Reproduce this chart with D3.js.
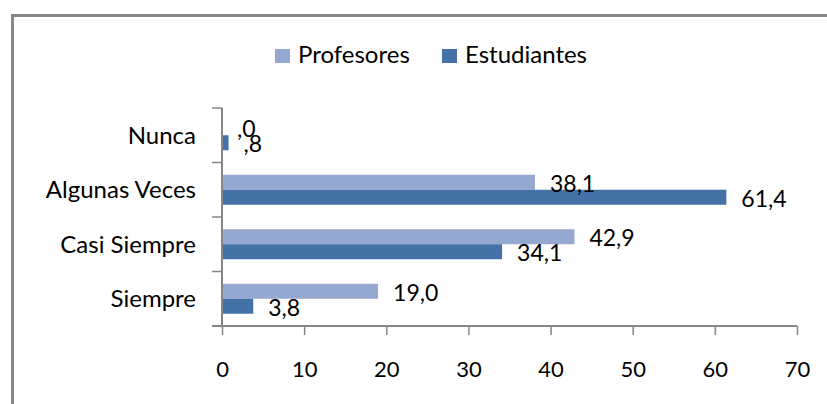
<!DOCTYPE html>
<html>
<head>
<meta charset="utf-8">
<script src="https://cdn.jsdelivr.net/npm/d3@7"></script>
<style>
    body { margin: 0; background: #fff; }
    text { font-family: Lato, "Open Sans", sans-serif; fill: #000; }
</style>
</head>
<body>
<div id="chart"></div>
<script>
// Chart data
const categories = ['Nunca', 'Algunas Veces', 'Casi Siempre', 'Siempre'];
const seriesNames = ['Profesores', 'Estudiantes'];
const profesores = [0.0, 38.1, 42.9, 19.0];
const estudiantes = [0.8, 61.4, 34.1, 3.8];
const xTicks = [0, 10, 20, 30, 40, 50, 60, 70];

function drawChart(containerId)
{
    const width = 827;
    const height = 404;
    const colors = ['#94a8d0', '#4472a7'];
    const axisColor = '#868686';

    const svg = d3.select(containerId)
        .append('svg')
        .attr('width', width)
        .attr('height', height);

    // Outer frame (runs past the right and bottom edges)
    svg.append('rect')
        .attr('x', 12.5)
        .attr('y', 15.5)
        .attr('width', 900)
        .attr('height', 500)
        .attr('fill', 'none')
        .attr('stroke', axisColor)
        .attr('stroke-width', 3);

    // Scales
    const xScale = d3.scaleLinear()
        .domain([0, 70])
        .range([222, 797]);

    const yScale = d3.scaleBand()
        .domain(categories)
        .range([108, 326]);

    const barH = 15;
    const inner = d3.scaleBand()
        .domain(seriesNames)
        .range([yScale.bandwidth() / 2 - barH, yScale.bandwidth() / 2 + barH]);

    const rows = categories.map((c, i) => ({
        category: c,
        values: [
            { key: 'Profesores', value: profesores[i] },
            { key: 'Estudiantes', value: estudiantes[i] }
        ]
    }));

    // Spanish style number labels (",8" for 0.8)
    const fmt = v => {
        let s = d3.format('.1f')(v).replace('.', ',');
        if (s.startsWith('0,')) s = s.slice(1);
        return s;
    };

    // Bars
    const groups = svg.selectAll('g.row')
        .data(rows)
        .enter()
        .append('g')
        .attr('class', 'row')
        .attr('transform', d => `translate(0, ${yScale(d.category)})`);

    groups.selectAll('rect')
        .data(d => d.values)
        .enter()
        .append('rect')
        .attr('x', xScale(0))
        .attr('y', d => inner(d.key))
        .attr('width', d => xScale(d.value) - xScale(0))
        .attr('height', inner.bandwidth())
        .attr('fill', (d, i) => colors[i]);

    // Value labels
    groups.selectAll('text.val')
        .data(d => d.values)
        .enter()
        .append('text')
        .attr('class', 'val')
        .attr('x', d => xScale(d.value) + 15)
        .attr('y', d => inner(d.key) + inner.bandwidth() / 2 + 9.5)
        .style('font-size', '23px')
        .text(d => fmt(d.value));

    // X axis
    const xAxis = d3.axisBottom(xScale)
        .tickValues(xTicks)
        .tickSize(9)
        .tickSizeOuter(0)
        .tickFormat(d3.format('d'));

    const gx = svg.append('g')
        .attr('transform', `translate(0, ${yScale.range()[1]})`)
        .call(xAxis);
    gx.select('.domain').remove();
    gx.append('line')
        .attr('x1', xScale(0) - 10)
        .attr('x2', xScale(70))
        .attr('stroke', axisColor)
        .attr('stroke-width', 2);
    gx.selectAll('.tick line')
        .attr('stroke', axisColor)
        .attr('stroke-width', 1.5);
    gx.selectAll('.tick text')
        .attr('y', 50.7)
        .attr('dy', null)
        .attr('fill', '#000')
        .style('font-size', '22px')
        .style('font-family', 'Lato, sans-serif');

    // Y axis with category boundary ticks
    const yAxis = d3.axisLeft(yScale)
        .tickSize(0)
        .tickPadding(26);

    const gy = svg.append('g')
        .attr('transform', `translate(${xScale(0)}, 0)`)
        .call(yAxis);
    gy.select('.domain').remove();
    gy.selectAll('.tick text')
        .attr('dy', '0.36em')
        .attr('fill', '#000')
        .style('font-size', '24px')
        .style('font-family', 'Lato, sans-serif');

    const bounds = categories.map(c => yScale(c)).concat([yScale.range()[1]]);
    gy.selectAll('line.bound')
        .data(bounds)
        .enter()
        .append('line')
        .attr('class', 'bound')
        .attr('x1', -10)
        .attr('x2', 0)
        .attr('y1', d => d)
        .attr('y2', d => d)
        .attr('stroke', axisColor)
        .attr('stroke-width', 1.5);
    gy.append('line')
        .attr('y1', yScale.range()[0])
        .attr('y2', yScale.range()[1])
        .attr('stroke', axisColor)
        .attr('stroke-width', 2);

    // Legend
    const legendX = [275, 442];
    const legend = svg.selectAll('g.legend')
        .data(seriesNames)
        .enter()
        .append('g')
        .attr('class', 'legend')
        .attr('transform', (d, i) => `translate(${legendX[i]}, 49)`);

    legend.append('rect')
        .attr('width', 15)
        .attr('height', 14)
        .attr('fill', (d, i) => colors[i]);

    legend.append('text')
        .attr('x', 23)
        .attr('y', 13.5)
        .style('font-size', '24px')
        .text(d => d);
}

drawChart('#chart');
</script>
</body>
</html>
